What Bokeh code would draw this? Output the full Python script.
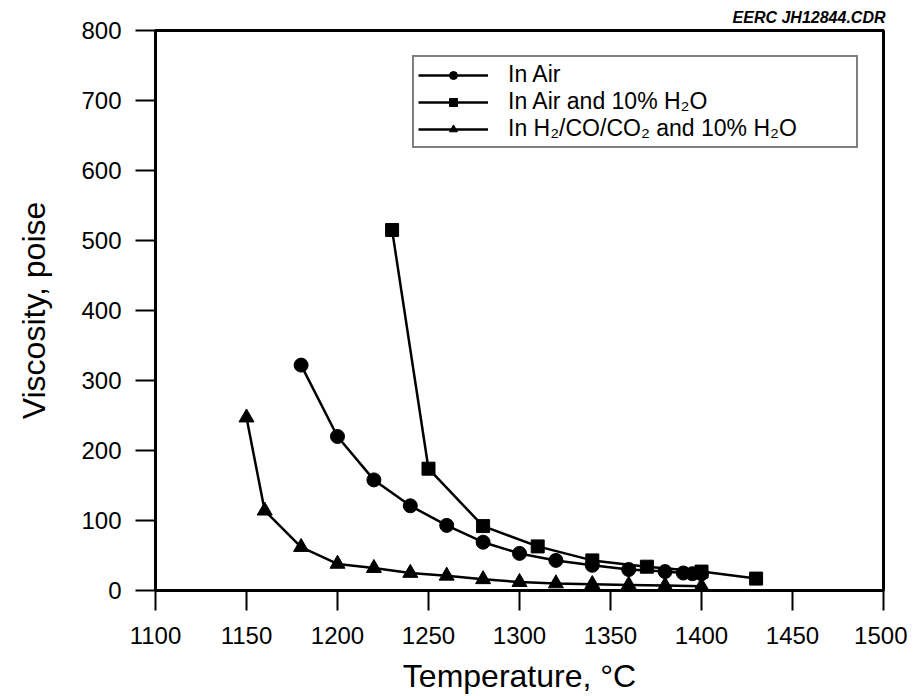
from bokeh.plotting import figure
from bokeh.models import Range1d, FixedTicker, Legend, LegendItem
from bokeh.embed import file_html
from bokeh.resources import INLINE

# data
air_T = [1180, 1200, 1220, 1240, 1260, 1280, 1300, 1320, 1340, 1360, 1380, 1390, 1395, 1400]
air_v = [322, 220, 158, 121, 93, 69, 53, 43, 36, 30, 27, 25, 24, 24]

airh2o_T = [1230, 1250, 1280, 1310, 1340, 1370, 1400, 1430]
airh2o_v = [515, 174, 92, 63, 43, 34, 27, 17]

red_T = [1150, 1160, 1180, 1200, 1220, 1240, 1260, 1280, 1300, 1320, 1340, 1360, 1380, 1400]
red_v = [247, 114, 62, 38, 32, 25, 21, 16, 12, 10, 9, 8, 7, 6]

x_ticks = [1100, 1150, 1200, 1250, 1300, 1350, 1400, 1450, 1500]
y_ticks = [0, 100, 200, 300, 400, 500, 600, 700, 800]

FONT = "Liberation Sans"

p = figure(width=907, height=696, output_backend="svg", toolbar_location=None,
           x_range=Range1d(1100, 1500), y_range=Range1d(0, 800),
           min_border_left=155, min_border_right=24, min_border_top=30, min_border_bottom=105,
           title="EERC JH12844.CDR")

p.title.align = "right"
p.title.text_font = FONT
p.title.text_font_size = "16px"
p.title.text_font_style = "bold italic"
p.title.text_color = "black"
p.title.standoff = 10
p.title.offset = -2

p.xgrid.visible = False
p.ygrid.visible = False
p.outline_line_color = "black"
p.outline_line_width = 3
p.background_fill_color = "white"
p.border_fill_color = "white"

for ax, ticks in ((p.xaxis[0], x_ticks), (p.yaxis[0], y_ticks)):
    ax.ticker = FixedTicker(ticks=ticks)
    ax.axis_line_width = 3
    ax.axis_line_color = "black"
    ax.major_tick_in = 0
    ax.major_tick_out = 20
    ax.major_tick_line_width = 2
    ax.minor_tick_line_color = None
    ax.major_label_text_font = FONT
    ax.major_label_text_font_size = "24px"
    ax.major_label_text_color = "black"
    ax.axis_label_text_font = FONT
    ax.axis_label_text_font_style = "normal"
    ax.axis_label_text_color = "black"

p.xaxis.axis_label = "Temperature, °C"
p.yaxis.axis_label = "Viscosity, poise"
p.xaxis.axis_label_text_font_size = "32px"
p.yaxis.axis_label_text_font_size = "32px"
p.xaxis.major_label_standoff = 16
p.yaxis.major_label_standoff = 14
p.xaxis.axis_label_standoff = 11
p.yaxis.axis_label_standoff = 26

l1 = p.line(air_T, air_v, line_color="black", line_width=2.5)
m1 = p.scatter(air_T, air_v, marker="circle", size=14, fill_color="black", line_color="black")
l2 = p.line(airh2o_T, airh2o_v, line_color="black", line_width=2.5)
m2 = p.scatter(airh2o_T, airh2o_v, marker="square", size=13, fill_color="black", line_color="black")
l3 = p.line(red_T, red_v, line_color="black", line_width=2.5)
m3 = p.scatter(red_T, red_v, marker="triangle", size=15, fill_color="black", line_color="black")

legend = Legend(items=[
    LegendItem(label="In Air", renderers=[l1, m1]),
    LegendItem(label="In Air and 10% H₂O", renderers=[l2, m2]),
    LegendItem(label="In H₂/CO/CO₂ and 10% H₂O", renderers=[l3, m3]),
], location="top_right")
legend.margin = 25
legend.padding = 4
legend.spacing = 0
legend.border_line_color = "black"
legend.border_line_width = 2
legend.background_fill_color = "white"
legend.label_text_font = FONT
legend.label_text_font_size = "23px"
legend.label_text_color = "black"
legend.glyph_width = 70
legend.glyph_height = 20
legend.label_height = 20
legend.label_standoff = 20
legend.label_width = 344
p.add_layout(legend, "center")

open("out.html", "w").write(file_html(p, INLINE))
